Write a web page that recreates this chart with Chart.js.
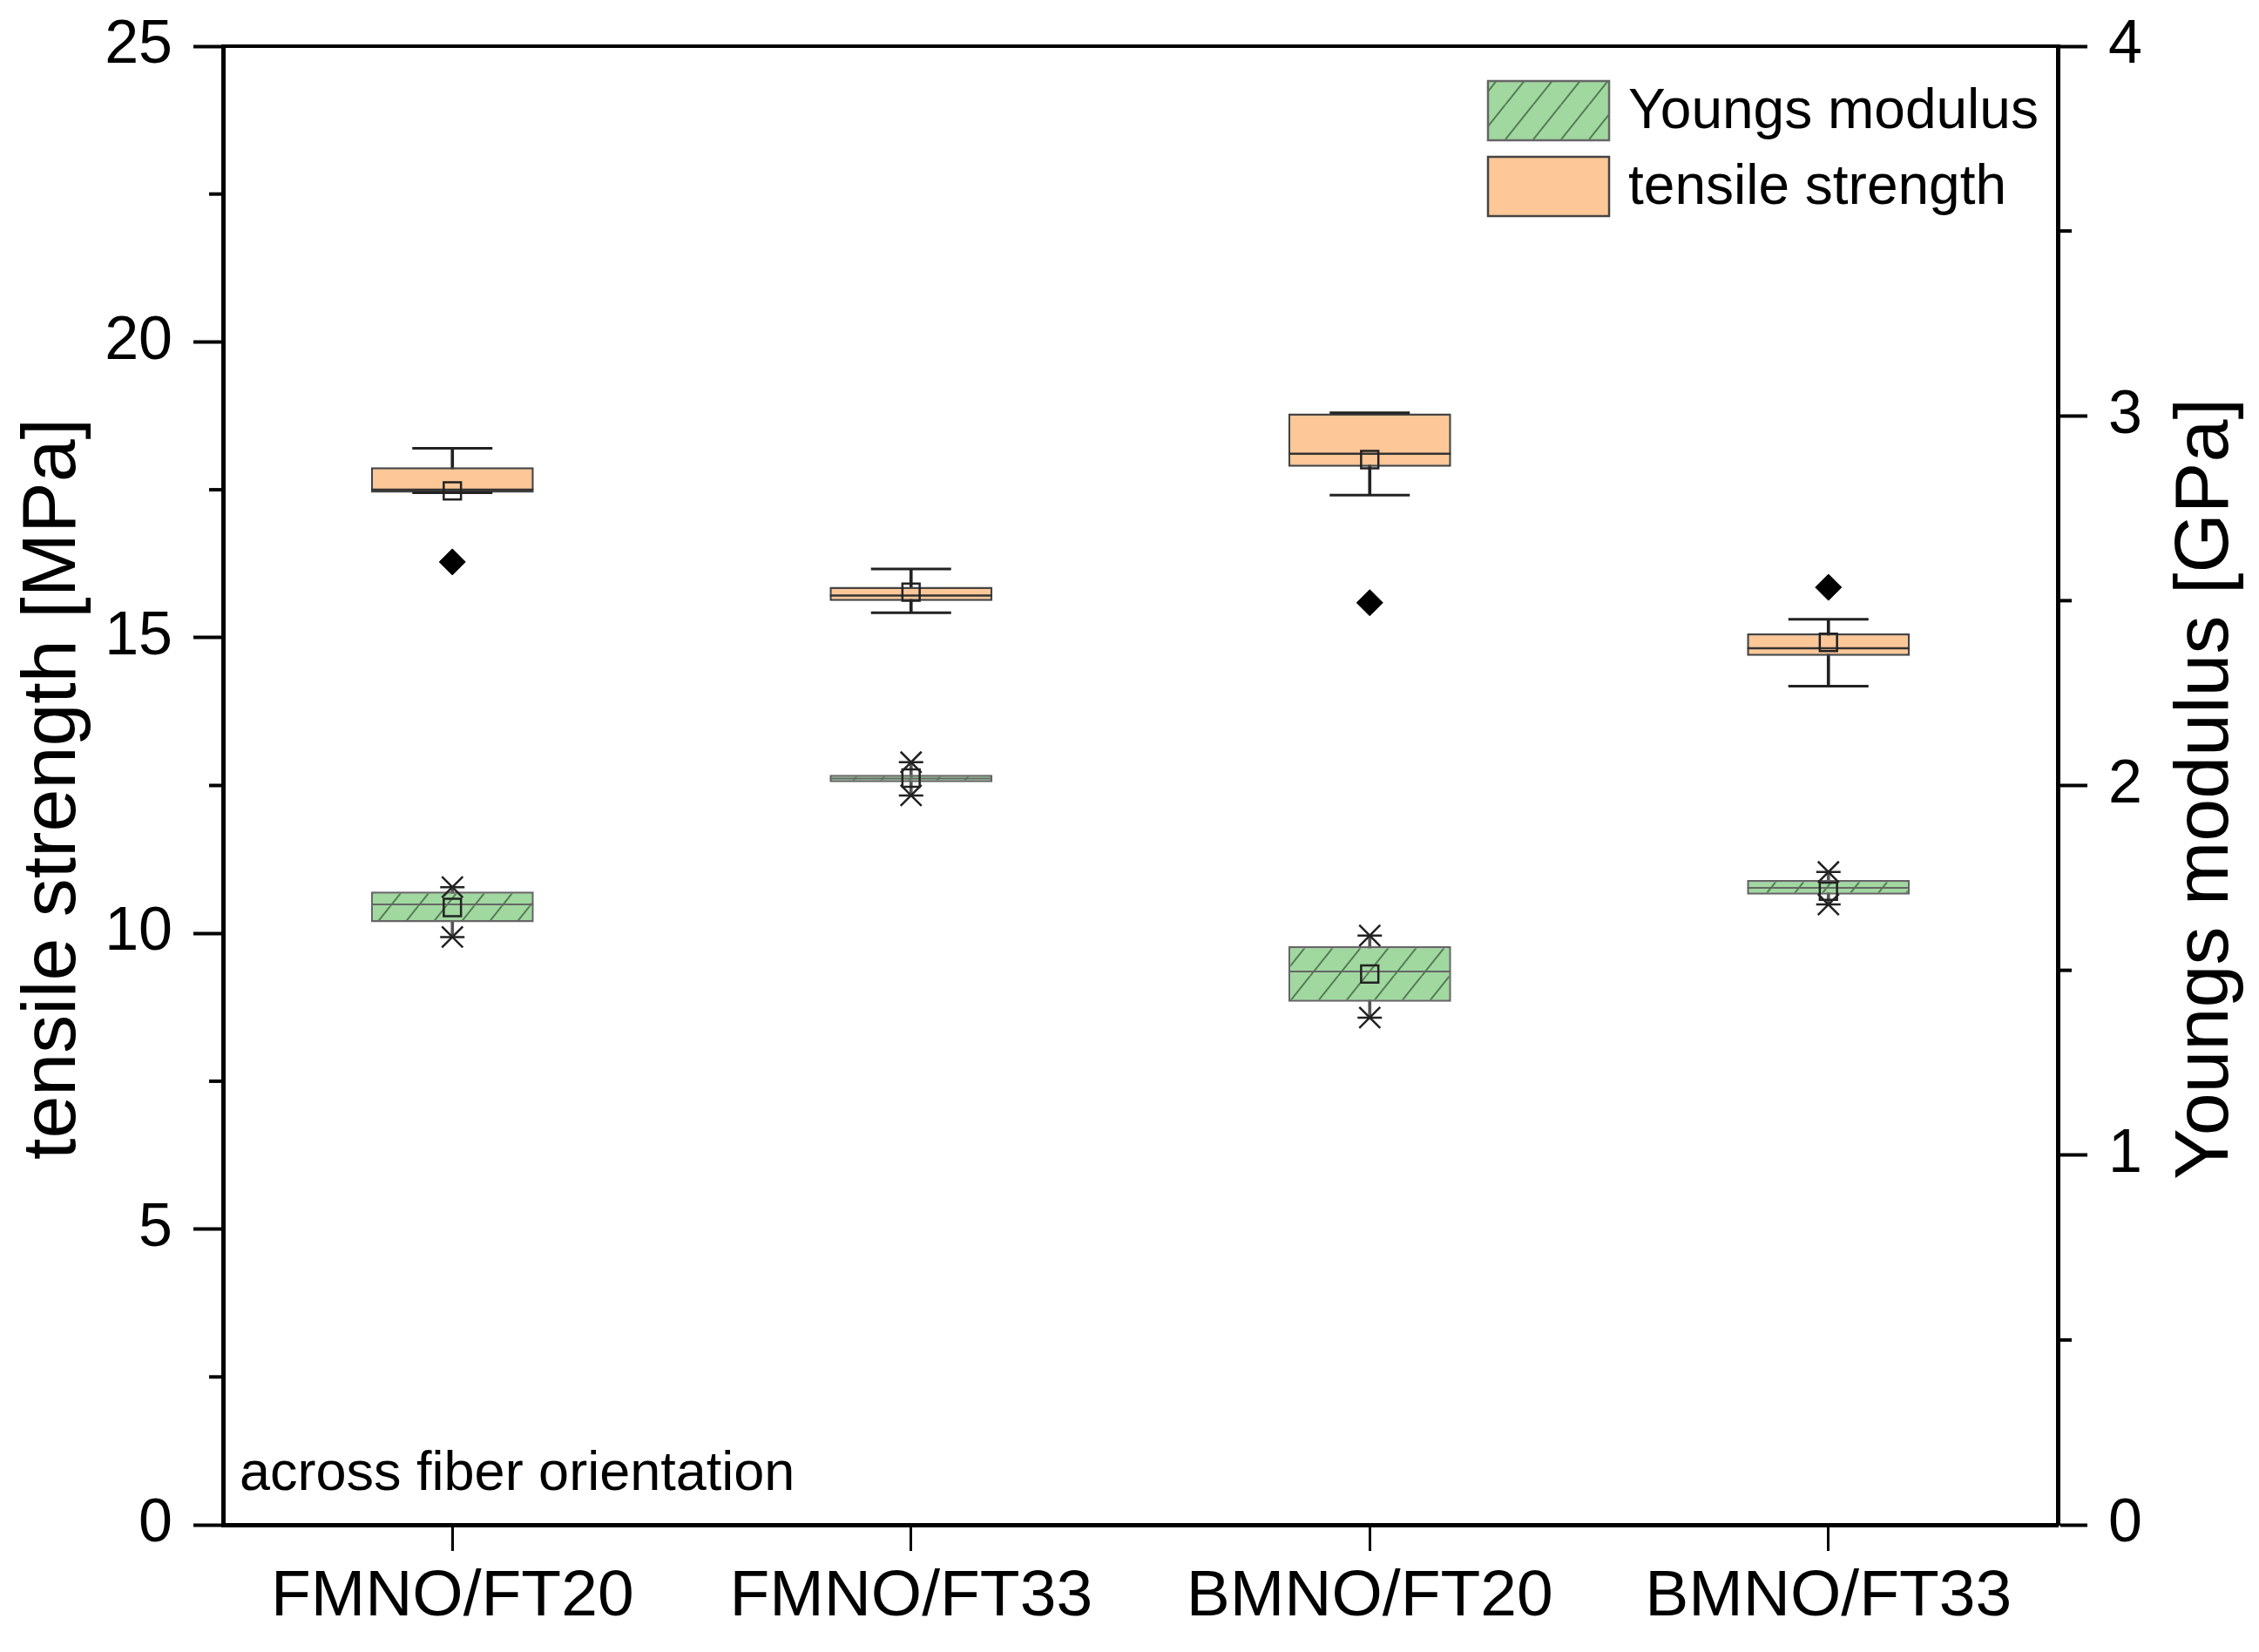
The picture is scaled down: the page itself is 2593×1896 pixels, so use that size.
<!DOCTYPE html>
<html>
<head>
  <meta charset="utf-8" />
  <style>
    html, body { margin: 0; padding: 0; background: #fff; }
    #wrap { width: 2593px; height: 1896px; }
  </style>
</head>
<body>
  <div id="wrap"><canvas id="boxChart" width="2593" height="1896"></canvas></div>

  <script src="https://cdn.jsdelivr.net/npm/chart.js"></script>
  <script>
    // categories
    const categories = ["FMNO/FT20", "FMNO/FT33", "BMNO/FT20", "BMNO/FT33"];

    // tensile strength [MPa] (left axis)
    const tsQ1 = [17.45, 15.62, 17.89, 14.69];
    const tsQ3 = [17.88, 15.86, 18.79, 15.07];
    const tsMedian = [17.50, 15.71, 18.11, 14.82];
    const tsMean = [17.48, 15.77, 18.01, 14.92];
    const tsLow = [17.45, 15.42, 17.41, 14.18];
    const tsHigh = [18.20, 16.16, 18.80, 15.31];
    const tsOutlier = [16.28, null, 15.59, 15.85];

    // Youngs modulus [GPa] (right axis)
    const ymQ1 = [1.630, 2.009, 1.415, 1.705];
    const ymQ3 = [1.713, 2.029, 1.565, 1.744];
    const ymMedian = [1.678, 2.019, 1.497, 1.723];
    const ymMean = [1.670, 2.020, 1.490, 1.714];
    const ymMin = [1.590, 1.973, 1.372, 1.678];
    const ymMax = [1.725, 2.063, 1.594, 1.766];

    // axis ticks
    const leftTicks = [0, 5, 10, 15, 20, 25];
    const leftMinor = [2.5, 7.5, 12.5, 17.5, 22.5];
    const rightTicks = [0, 1, 2, 3, 4];
    const rightMinor = [0.5, 1.5, 2.5, 3.5];

    const FONT = "'Liberation Sans', Arial, sans-serif";
    const ORANGE = "#fdc797";
    const GREEN = "#a0d8a0";

    Chart.defaults.font.family = FONT;
    Chart.defaults.color = "#000";

    function hatch(fill, stroke) {
      const c = document.createElement("canvas");
      c.width = 32; c.height = 40;
      const g = c.getContext("2d");
      g.fillStyle = fill;
      g.fillRect(0, 0, 32, 40);
      g.strokeStyle = stroke;
      g.lineWidth = 2;
      g.beginPath();
      g.moveTo(-32, 40); g.lineTo(0, 0);
      g.moveTo(0, 40); g.lineTo(32, 0);
      g.moveTo(32, 40); g.lineTo(64, 0);
      g.stroke();
      return g.createPattern(c, "repeat");
    }
    const greenHatch = hatch(GREEN, "rgba(70,105,70,0.85)");

    function pts(extra) {
      return Object.assign({
        type: "line",
        showLine: false,
        pointBackgroundColor: "rgba(0,0,0,0)",
        pointBorderColor: "#222",
        pointBorderWidth: 2.5
      }, extra);
    }

    function fixWidth(w) {
      return function (s) {
        s.width = w;
        s.paddingTop = 0;
        s.paddingBottom = 0;
      };
    }

    const extras = {
      id: "extras",
      afterDraw(chart) {
        const { ctx, chartArea: a, scales } = chart;
        ctx.save();
        // top frame line
        ctx.strokeStyle = "#000";
        ctx.lineWidth = 4;
        ctx.beginPath();
        ctx.moveTo(a.left - 2, a.top);
        ctx.lineTo(a.right + 2, a.top);
        ctx.stroke();

        // minor ticks
        ctx.lineWidth = 4;
        leftMinor.forEach(v => {
          const y = scales.y.getPixelForValue(v);
          ctx.beginPath(); ctx.moveTo(a.left - 16, y); ctx.lineTo(a.left, y); ctx.stroke();
        });
        rightMinor.forEach(v => {
          const y = scales.y2.getPixelForValue(v);
          ctx.beginPath(); ctx.moveTo(a.right, y); ctx.lineTo(a.right + 16, y); ctx.stroke();
        });

        // axis titles
        ctx.fillStyle = "#000";
        ctx.textAlign = "center";
        ctx.textBaseline = "middle";
        ctx.font = "88px " + FONT;
        const midY = (a.top + a.bottom) / 2;
        ctx.save();
        ctx.translate(62, midY + 4);
        ctx.rotate(-Math.PI / 2);
        ctx.fillText("tensile strength [MPa]", 0, 0);
        ctx.restore();
        ctx.save();
        ctx.translate(2533, midY + 4);
        ctx.rotate(-Math.PI / 2);
        ctx.fillText("Youngs modulus [GPa]", 0, 0);
        ctx.restore();

        // annotation
        ctx.textAlign = "left";
        ctx.textBaseline = "alphabetic";
        ctx.font = "63px " + FONT;
        ctx.fillText("across fiber orientation", 275, 1710);

        // legend
        const lx = 1708, lw = 139, lh = 68;
        const rows = [
          { label: "Youngs modulus", fill: greenHatch, stroke: "#666", y: 93 },
          { label: "tensile strength", fill: ORANGE, stroke: "#444", y: 180 }
        ];
        ctx.font = "64px " + FONT;
        ctx.textBaseline = "middle";
        rows.forEach(r => {
          ctx.fillStyle = r.fill;
          ctx.fillRect(lx, r.y, lw, lh);
          ctx.strokeStyle = r.stroke;
          ctx.lineWidth = 2.5;
          ctx.strokeRect(lx, r.y, lw, lh);
          ctx.fillStyle = "#000";
          ctx.fillText(r.label, 1869, r.y + lh / 2 + 2);
        });
        ctx.restore();
      }
    };

    new Chart(document.getElementById("boxChart"), {
      type: "bar",
      data: {
        labels: categories,
        datasets: [
          // whiskers
          { yAxisID: "y", data: tsLow.map((v, i) => [v, tsHigh[i]]), backgroundColor: "#222",
            barThickness: 3, grouped: false, order: 20 },
          { yAxisID: "y2", data: ymMin.map((v, i) => [v, ymMax[i]]), backgroundColor: "#555",
            barThickness: 3, grouped: false, order: 20 },
          // boxes
          { yAxisID: "y", data: tsQ1.map((v, i) => [v, tsQ3[i]]), backgroundColor: ORANGE,
            borderColor: "#444", borderWidth: 2.5, borderSkipped: false,
            barPercentage: 0.355, categoryPercentage: 1, grouped: false, order: 10 },
          { yAxisID: "y2", data: ymQ1.map((v, i) => [v, ymQ3[i]]), backgroundColor: greenHatch,
            borderColor: "#666", borderWidth: 2.5, borderSkipped: false,
            barPercentage: 0.355, categoryPercentage: 1, grouped: false, order: 10 },
          // medians
          pts({ yAxisID: "y", data: tsMedian, pointStyle: "line", pointRadius: 93, pointBorderColor: "#333", order: 6 }),
          pts({ yAxisID: "y2", data: ymMedian, pointStyle: "line", pointRadius: 93, pointBorderColor: "#666", pointBorderWidth: 2, order: 6 }),
          // whisker caps
          pts({ yAxisID: "y", data: tsHigh, pointStyle: "line", pointRadius: 46, pointBorderWidth: 3, order: 6 }),
          pts({ yAxisID: "y", data: tsLow, pointStyle: "line", pointRadius: 46, pointBorderWidth: 3, order: 6 }),
          pts({ yAxisID: "y2", data: ymMax, pointStyle: "line", pointRadius: 14, order: 4 }),
          pts({ yAxisID: "y2", data: ymMin, pointStyle: "line", pointRadius: 14, order: 4 }),
          // min / max crosses
          pts({ yAxisID: "y2", data: ymMax, pointStyle: "crossRot", pointRadius: 17, order: 3 }),
          pts({ yAxisID: "y2", data: ymMin, pointStyle: "crossRot", pointRadius: 17, order: 3 }),
          // means
          pts({ yAxisID: "y", data: tsMean, pointStyle: "rect", pointRadius: 14, order: 2 }),
          pts({ yAxisID: "y2", data: ymMean, pointStyle: "rect", pointRadius: 14, order: 2 }),
          // outliers
          pts({ yAxisID: "y", data: tsOutlier, pointStyle: "rectRot", pointRadius: 15,
            pointBackgroundColor: "#000", pointBorderColor: "#000", pointBorderWidth: 1, order: 1 })
        ]
      },
      options: {
        responsive: false,
        devicePixelRatio: 1,
        animation: false,
        events: [],
        layout: { autoPadding: false, padding: { top: 53, left: 0, right: 0, bottom: 0 } },
        plugins: { legend: { display: false }, tooltip: { enabled: false } },
        scales: {
          x: {
            type: "category",
            offset: true,
            afterFit(s) { s.height = 146; s.paddingLeft = 0; s.paddingRight = 0; },
            border: { display: true, color: "#000", width: 5 },
            grid: { offset: false, drawOnChartArea: false, color: "#000", tickLength: 30, tickWidth: 3 },
            ticks: { font: { size: 75 }, color: "#000", padding: 8, maxRotation: 0 }
          },
          y: {
            position: "left",
            min: 0, max: 25,
            afterFit: fixWidth(256),
            afterBuildTicks(s) { s.ticks = leftTicks.map(v => ({ value: v })); },
            border: { display: true, color: "#000", width: 5 },
            grid: { drawOnChartArea: false, color: "#000", tickLength: 34, tickWidth: 4 },
            ticks: { font: { size: 70 }, color: "#000", padding: 24 }
          },
          y2: {
            position: "right",
            min: 0, max: 4,
            afterFit: fixWidth(231),
            afterBuildTicks(s) { s.ticks = rightTicks.map(v => ({ value: v })); },
            border: { display: true, color: "#000", width: 5 },
            grid: { drawOnChartArea: false, color: "#000", tickLength: 34, tickWidth: 4 },
            ticks: { font: { size: 70 }, color: "#000", padding: 24 }
          }
        }
      },
      plugins: [extras]
    });
  </script>
</body>
</html>
